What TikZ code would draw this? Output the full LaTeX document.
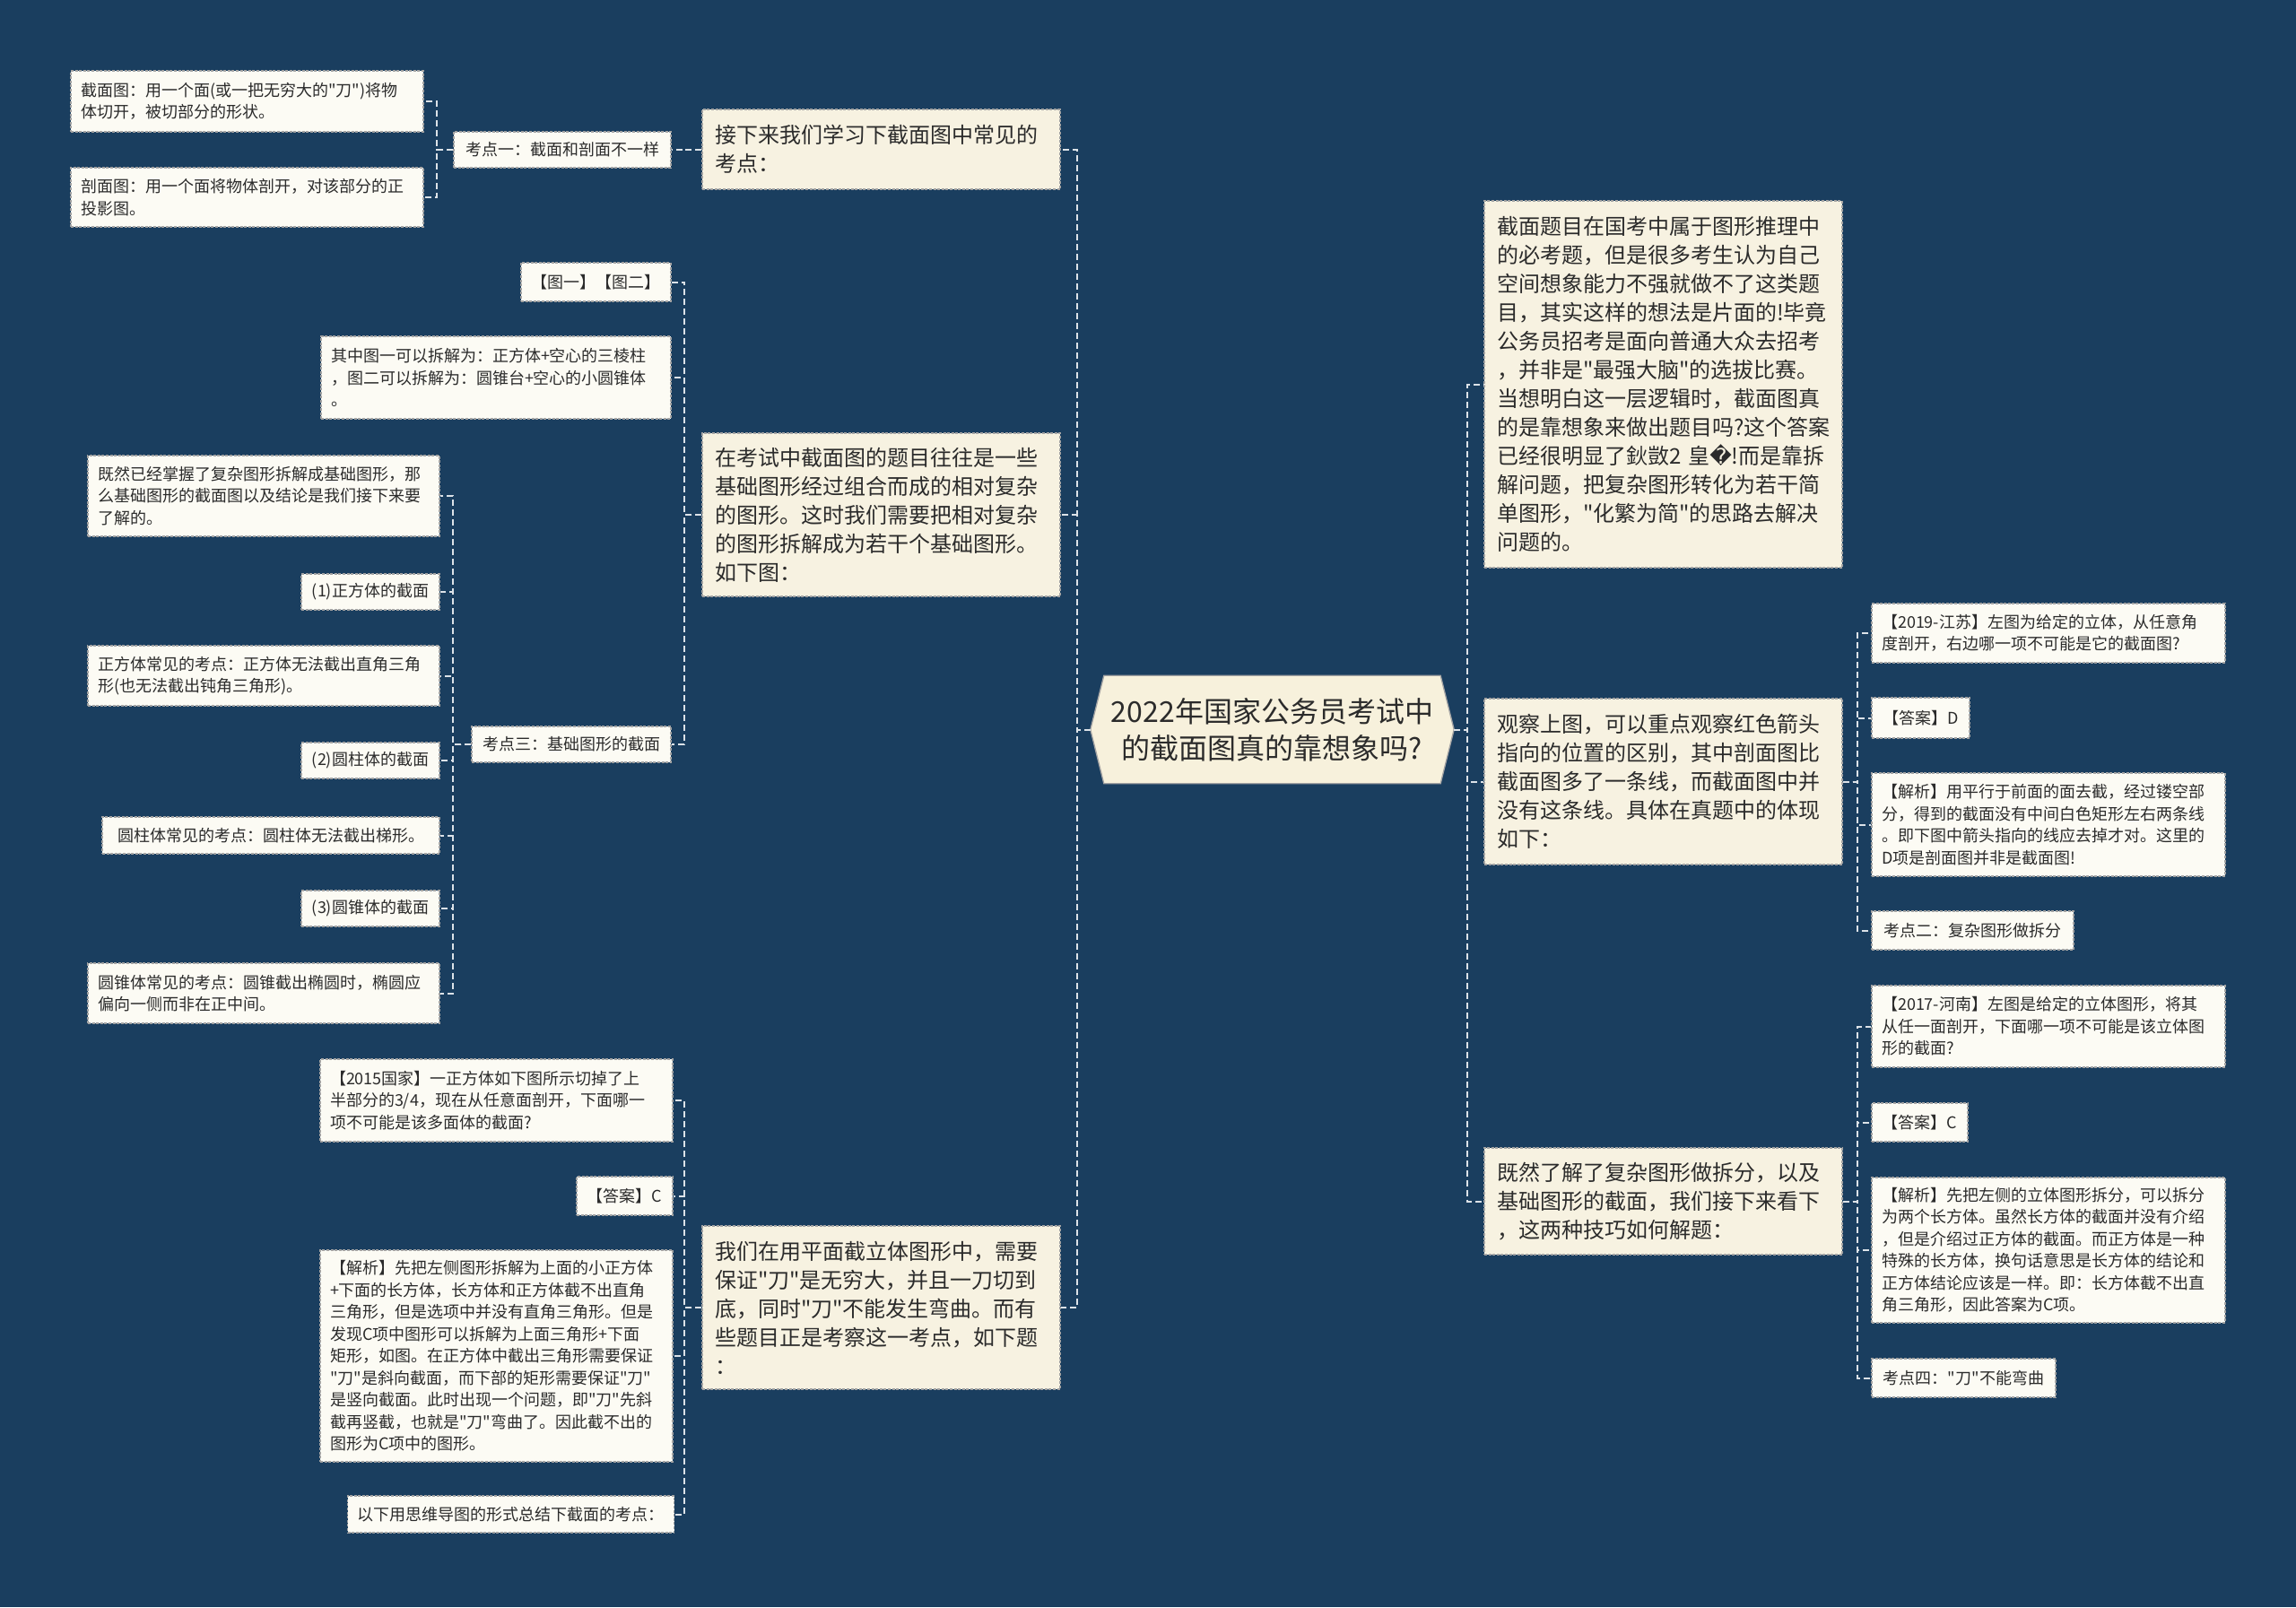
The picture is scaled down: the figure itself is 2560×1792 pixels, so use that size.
\documentclass[tikz,border=0pt]{standalone}
\usepackage{fontspec}
\setmainfont{Noto Sans CJK SC}[Ligatures=TeXOff]
\newfontfamily\djv{DejaVu Sans}
\pgfdeclarelayer{bg}
\pgfsetlayers{bg,main}
\definecolor{bgc}{HTML}{1A3E5F}
\definecolor{txc}{HTML}{2B2B2B}
\definecolor{fone}{HTML}{F7F2E1}
\definecolor{ftwo}{HTML}{FCFBF4}
\definecolor{fc}{HTML}{F7F1DC}
\definecolor{bdc}{HTML}{A3A3A3}
\definecolor{lnc}{HTML}{DCE2E8}
\tikzset{
  boxline/.style={draw=bdc, dash pattern=on 3pt off 1.6pt, line width=1.3pt},
  lvone/.style={boxline, fill=fone, text=txc, font=\fontsize{24}{32}\selectfont,
    inner xsep=14pt, inner ysep=0pt, text width=371pt, align=left},
  lvtwo/.style={boxline, fill=ftwo, text=txc, font=\fontsize{18}{24.5}\selectfont,
    inner xsep=11pt, inner ysep=0pt},
  multi/.style={align=left, text width=#1},
  single/.style={align=center, minimum width=#1},
  conn/.style={draw=lnc, line width=2pt, dash pattern=on 7pt off 4pt},
}
\begin{document}
\begin{tikzpicture}[x=1pt,y=-1pt]
\begin{pgfonlayer}{bg}
\fill[bgc] (0,0) rectangle (2560,1792);
\end{pgfonlayer}
\useasboundingbox (0,0) rectangle (2560,1792);

% centre
\node[text=txc, font=\fontsize{32}{41}\selectfont, align=center,
  minimum width=405, minimum height=120, inner sep=0pt] (C) at (1418.5,813.5)
  {2022年国家公务员考试中\\的截面图真的靠想象吗?};
\begin{pgfonlayer}{bg}
\draw[fill=fc, draw=bdc, line width=1.3pt]
  ([xshift=15pt]C.north west) -- ([xshift=-15pt]C.north east) -- (C.east)
  -- ([xshift=-15pt]C.south east) -- ([xshift=15pt]C.south west) -- (C.west) -- cycle;
\end{pgfonlayer}

% level one, left
\node[lvone, minimum height=89] (L1) at (982.5,166.5)
  {接下来我们学习下截面图中常见的\\考点：};
\node[lvone, minimum height=182] (L2) at (982.5,574)
  {在考试中截面图的题目往往是一些\\基础图形经过组合而成的相对复杂\\的图形。这时我们需要把相对复杂\\的图形拆解成为若干个基础图形。\\如下图：};
\node[lvone, minimum height=182] (L3) at (982.5,1458)
  {我们在用平面截立体图形中，需要\\保证"刀"是无穷大，并且一刀切到\\底，同时"刀"不能发生弯曲。而有\\些题目正是考察这一考点，如下题\\：};

% level one, right
\node[lvone, minimum height=409] (R1) at (1854.5,428.5)
  {截面题目在国考中属于图形推理中\\的必考题，但是很多考生认为自己\\空间想象能力不强就做不了这类题\\目，其实这样的想法是片面的!毕竟\\公务员招考是面向普通大众去招考\\，并非是"最强大脑"的选拔比赛。\\当想明白这一层逻辑时，截面图真\\的是靠想象来做出题目吗?这个答案\\已经很明显了鈥敳2 皇{\djv\symbol{"FFFD}}!而是靠拆\\解问题，把复杂图形转化为若干简\\单图形，"化繁为简"的思路去解决\\问题的。};
\node[lvone, minimum height=185] (R2) at (1854.5,871.5)
  {观察上图，可以重点观察红色箭头\\指向的位置的区别，其中剖面图比\\截面图多了一条线，而截面图中并\\没有这条线。具体在真题中的体现\\如下：};
\node[lvone, minimum height=119] (R3) at (1854.5,1339.5)
  {既然了解了复杂图形做拆分，以及\\基础图形的截面，我们接下来看下\\，这两种技巧如何解题：};

% under L1
\node[lvtwo, single=242, minimum height=40] (K1) at (627,167) {考点一：截面和剖面不一样};
\node[lvtwo, multi=371pt, minimum height=68] (K1a) at (275.5,113)
  {截面图：用一个面(或一把无穷大的"刀")将物\\体切开，被切部分的形状。};
\node[lvtwo, multi=371pt, minimum height=66] (K1b) at (275.5,220)
  {剖面图：用一个面将物体剖开，对该部分的正\\投影图。};

% under L2
\node[lvtwo, single=167, minimum height=43] (T1) at (664.5,314.5) {【图一】【图二】};
\node[lvtwo, multi=368pt, minimum height=92] (T2) at (553,421)
  {其中图一可以拆解为：正方体+空心的三棱柱\\，图二可以拆解为：圆锥台+空心的小圆锥体\\。};
\node[lvtwo, single=222, minimum height=40] (K3) at (637,830) {考点三：基础图形的截面};

% under K3
\node[lvtwo, multi=370pt, minimum height=90] (G1) at (294,553)
  {既然已经掌握了复杂图形拆解成基础图形，那\\么基础图形的截面图以及结论是我们接下来要\\了解的。};
\node[lvtwo, single=154, minimum height=40] (G2) at (413,660) {(1)正方体的截面};
\node[lvtwo, multi=370pt, minimum height=67] (G3) at (294,753.5)
  {正方体常见的考点：正方体无法截出直角三角\\形(也无法截出钝角三角形)。};
\node[lvtwo, single=154, minimum height=40] (G4) at (413,848) {(2)圆柱体的截面};
\node[lvtwo, single=376, minimum height=41] (G5) at (302,931.5) {圆柱体常见的考点：圆柱体无法截出梯形。};
\node[lvtwo, single=154, minimum height=40] (G6) at (413,1013) {(3)圆锥体的截面};
\node[lvtwo, multi=370pt, minimum height=67] (G7) at (294,1107.5)
  {圆锥体常见的考点：圆锥截出椭圆时，椭圆应\\偏向一侧而非在正中间。};

% under L3
\node[lvtwo, multi=371pt, minimum height=92] (Q15) at (553.5,1227)
  {【2015国家】一正方体如下图所示切掉了上\\半部分的3/4，现在从任意面剖开，下面哪一\\项不可能是该多面体的截面?};
\node[lvtwo, single=107, minimum height=43] (A15) at (696.5,1333.5) {【答案】C};
\node[lvtwo, multi=371pt, minimum height=236] (J15) at (553.5,1512)
  {【解析】先把左侧图形拆解为上面的小正方体\\+下面的长方体，长方体和正方体截不出直角\\三角形，但是选项中并没有直角三角形。但是\\发现C项中图形可以拆解为上面三角形+下面\\矩形，如图。在正方体中截出三角形需要保证\\"刀"是斜向截面，而下部的矩形需要保证"刀"\\是竖向截面。此时出现一个问题，即"刀"先斜\\截再竖截，也就是"刀"弯曲了。因此截不出的\\图形为C项中的图形。};
\node[lvtwo, single=361, minimum height=41] (S15) at (569.5,1688.5) {以下用思维导图的形式总结下截面的考点：};

% under R2
\node[lvtwo, multi=372pt, minimum height=66] (Q19) at (2284,706)
  {【2019-江苏】左图为给定的立体，从任意角\\度剖开，右边哪一项不可能是它的截面图?};
\node[lvtwo, single=109, minimum height=45] (A19) at (2141.5,800.5) {【答案】D};
\node[lvtwo, multi=372pt, minimum height=115] (J19) at (2284,919.5)
  {【解析】用平行于前面的面去截，经过镂空部\\分，得到的截面没有中间白色矩形左右两条线\\。即下图中箭头指向的线应去掉才对。这里的\\D项是剖面图并非是截面图!};
\node[lvtwo, single=225, minimum height=43] (K2) at (2199.5,1037.5) {考点二：复杂图形做拆分};

% under R3
\node[lvtwo, multi=372pt, minimum height=91] (Q17) at (2284,1144.5)
  {【2017-河南】左图是给定的立体图形，将其\\从任一面剖开，下面哪一项不可能是该立体图\\形的截面?};
\node[lvtwo, single=107, minimum height=43] (A17) at (2140.5,1251.5) {【答案】C};
\node[lvtwo, multi=372pt, minimum height=162] (J17) at (2284,1394)
  {【解析】先把左侧的立体图形拆分，可以拆分\\为两个长方体。虽然长方体的截面并没有介绍\\，但是介绍过正方体的截面。而正方体是一种\\特殊的长方体，换句话意思是长方体的结论和\\正方体结论应该是一样。即：长方体截不出直\\角三角形，因此答案为C项。};
\node[lvtwo, single=205, minimum height=43] (K4) at (2189.5,1536.5) {考点四："刀"不能弯曲};

% connectors
\foreach \n in {L1,L2,L3} \draw[conn] (C.west) -- ++(-15,0) |- (\n.east);
\foreach \n in {R1,R2,R3} \draw[conn] (C.east) -- ++(15,0) |- (\n.west);
\draw[conn] (L1.west) -- ++(-19,0) |- (K1.east);
\foreach \n in {K1a,K1b} \draw[conn] (K1.west) -- ++(-18,0) |- (\n.east);
\foreach \n in {T1,T2,K3} \draw[conn] (L2.west) -- ++(-19,0) |- (\n.east);
\foreach \n in {G1,G2,G3,G4,G5,G6,G7} \draw[conn] (K3.west) -- ++(-20,0) |- (\n.east);
\foreach \n in {Q15,A15,J15,S15} \draw[conn] (L3.west) -- ++(-19,0) |- (\n.east);
\foreach \n in {Q19,A19,J19,K2} \draw[conn] (R2.east) -- ++(16,0) |- (\n.west);
\foreach \n in {Q17,A17,J17,K4} \draw[conn] (R3.east) -- ++(16,0) |- (\n.west);
\end{tikzpicture}
\end{document}
